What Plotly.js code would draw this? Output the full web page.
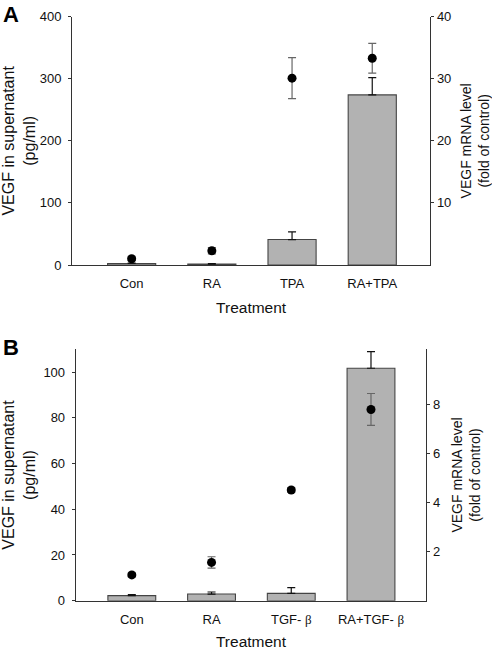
<!DOCTYPE html>
<html><head><meta charset="utf-8">
<script src="https://cdn.plot.ly/plotly-3.0.1.min.js"></script>
<style>body{margin:0;padding:0;background:#fff}#chart{width:492px;height:650px}</style>
</head><body><div id="chart"></div>
<script>
// Panel A
const catsA = ["Con", "RA", "TPA", "RA+TPA"];
const barA = [2.5, 1.5, 41, 274];
const barErrA = [0.5, 0.8, 12.5, 28];
const mrnaA = [1.0, 2.3, 30.1, 33.3];
const mrnaErrA = [0.3, 0.5, 3.3, 2.4];
const leftTicksA = [0, 100, 200, 300, 400];
const rightTicksA = [10, 20, 30, 40];

// Panel B
const catsB = ["Con", "RA", "TGF- <span style='font-family:Liberation Serif'>β</span>", "RA+TGF- <span style='font-family:Liberation Serif'>β</span>"];
const barB = [2.2, 2.9, 3.2, 101.7];
const barErrB = [0.5, 0.9, 2.5, 7.3];
const mrnaB = [1.05, 1.56, 4.51, 7.79];
const mrnaErrB = [0.08, 0.23, 0.1, 0.65];
const leftTicksB = [0, 20, 40, 60, 80, 100];
const rightTicksB = [2, 4, 6, 8];

const FONT = "Liberation Sans, Arial, sans-serif";
const W = 492, H = 650;
const zeros = a => a.map(() => 0);

function barTrace(x, y, err, xa, ya) {
  return {type: "bar", x: x, y: y, xaxis: xa, yaxis: ya, width: 0.6,
    marker: {color: "#b2b2b2", line: {color: "#444", width: 1.1}},
    error_y: {type: "data", symmetric: false, array: err, arrayminus: zeros(err), color: "#111", thickness: 1.2, width: 4},
    showlegend: false, hoverinfo: "skip"};
}
function ptTrace(x, y, err, xa, ya) {
  return {type: "scatter", mode: "markers", x: x, y: y, xaxis: xa, yaxis: ya,
    marker: {color: "#000", size: 9},
    error_y: {type: "data", array: err, color: "#666", thickness: 1.2, width: 4},
    showlegend: false, hoverinfo: "skip"};
}

const data = [
  barTrace(catsA, barA, barErrA, "x", "y"),
  ptTrace(catsA, mrnaA, mrnaErrA, "x", "y2"),
  barTrace(catsB, barB, barErrB, "x2", "y3"),
  ptTrace(catsB, mrnaB, mrnaErrB, "x2", "y4")
];

const axLine = {showline: true, linecolor: "#333", linewidth: 1.3, showgrid: false, zeroline: false,
  tickfont: {family: FONT, size: 13, color: "#111"}};
const yT = {font: {family: FONT, size: 16, color: "#111"}};
const yR = {font: {family: FONT, size: 14, color: "#111"}};

const layout = {
  width: W, height: H, margin: {l: 0, r: 0, t: 0, b: 0},
  paper_bgcolor: "#fff", plot_bgcolor: "#fff",
  font: {family: FONT, color: "#111"},
  xaxis: Object.assign({}, axLine, {domain: [72.3/W, 430/W], anchor: "y", range: [-0.74, 3.72], ticks: "", ticklabelstandoff: 6,
    title: {text: "Treatment", font: {family: FONT, size: 15.5, color: "#111"}, standoff: 12}}),
  yaxis: Object.assign({}, axLine, {domain: [1 - 265/H, 1 - 16.7/H], anchor: "x", range: [0, 400], tickvals: leftTicksA,
    ticks: "outside", ticklen: 3, tickcolor: "#333", ticklabelstandoff: 4,
    title: Object.assign({text: "VEGF in supernatant<br>(pg/ml)", standoff: 8}, yT)}),
  yaxis2: Object.assign({}, axLine, {overlaying: "y", anchor: "x", side: "right", range: [0, 40], tickvals: rightTicksA,
    ticks: "outside", ticklen: 3, tickcolor: "#333",
    title: Object.assign({text: "VEGF mRNA level<br>(fold of control)", standoff: 13}, yR)}),
  xaxis2: Object.assign({}, axLine, {domain: [76/W, 426/W], anchor: "y3", range: [-0.70, 3.69], ticks: "", ticklabelstandoff: 6,
    title: {text: "Treatment", font: {family: FONT, size: 15.5, color: "#111"}, standoff: 12}}),
  yaxis3: Object.assign({}, axLine, {domain: [1 - 600.7/H, 1 - 349.3/H], anchor: "x2", range: [0, 110], tickvals: leftTicksB,
    ticks: "outside", ticklen: 3, tickcolor: "#333", ticklabelstandoff: 4,
    title: Object.assign({text: "VEGF in supernatant<br>(pg/ml)", standoff: 8}, yT)}),
  yaxis4: Object.assign({}, axLine, {overlaying: "y3", anchor: "x2", side: "right", range: [0, 10.24], tickvals: rightTicksB,
    ticks: "outside", ticklen: 3, tickcolor: "#333",
    title: Object.assign({text: "VEGF mRNA level<br>(fold of control)", standoff: 13}, yR)}),
  annotations: [
    {text: "<b>A</b>", xref: "paper", yref: "paper", x: 2/W, y: 1 - 1/H, xanchor: "left", yanchor: "top", showarrow: false,
     font: {family: FONT, size: 22, color: "#000"}, borderpad: 0},
    {text: "<b>B</b>", xref: "paper", yref: "paper", x: 2/W, y: 1 - 334/H, xanchor: "left", yanchor: "top", showarrow: false,
     font: {family: FONT, size: 22, color: "#000"}, borderpad: 0}
  ]
};

Plotly.newPlot("chart", data, layout, {staticPlot: true, displayModeBar: false});
</script></body></html>
